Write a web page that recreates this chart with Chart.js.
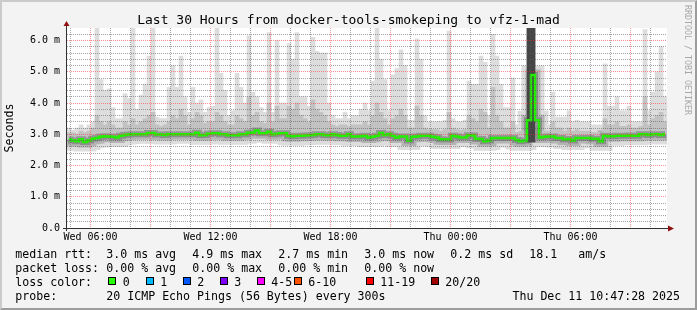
<!DOCTYPE html>
<html>
<head>
<meta charset="utf-8">
<script src="https://cdn.jsdelivr.net/npm/chart.js@4.4.1/dist/chart.umd.min.js"></script>
<style>
  html, body { margin: 0; padding: 0; }
  body { width: 697px; height: 310px; position: relative; overflow: hidden; background: #f3f3f3;
         font-family: "DejaVu Sans Mono", monospace; }
  #frame { position: absolute; left: 0; top: 0; width: 697px; height: 310px; box-sizing: border-box;
           border-top: 2px solid #cbcbcb; border-left: 2px solid #cbcbcb;
           border-right: 2px solid #9c9c9c; border-bottom: 2px solid #9c9c9c; }
  #chart { position: absolute; left: 0; top: 0; }
  .t { position: absolute; white-space: pre; color: #000; }
  .title { left: 0; width: 697px; top: 13px; text-align: center; font-size: 13px; line-height: 13px; }
  .vert { left: 683px; top: 5px; writing-mode: vertical-rl; font-size: 8.3px; line-height: 10px; color: #a8a8a8; }
  .leg { font-size: 11.6px; line-height: 14px; }
  .sw { position: absolute; width: 6px; height: 6px; border: 1px solid #000; }
</style>
</head>
<body>
<div id="frame"></div>
<canvas id="chart" width="697" height="310"></canvas>
<div class="t title">Last 30 Hours from docker-tools-smokeping to vfz-1-mad</div>
<div class="t vert">RRDTOOL / TOBI OETIKER</div>
<div id="legend"></div>

<script>
// 30 hours, one bucket every 12 minutes (4 px), minutes since Wed 00:00
const startMin = 289.5;
const spanMin = 1800;
const stepMin = 12;

// median rtt per bucket (ms)
const medianRtt = [
  2.83, 2.8, 2.78, 2.84, 2.75, 2.8, 2.86, 2.88, 2.92, 2.94,
  2.93, 2.92, 2.9, 2.95, 2.98, 2.99, 3.0, 3.0, 3.0, 3.0,
  3.04, 3.04, 2.99, 2.99, 2.98, 3.0, 3.0, 3.0, 3.0, 3.0,
  3.0, 3.0, 3.05, 2.97, 2.98, 3.02, 3.03, 3.03, 3.0, 3.0,
  2.97, 2.97, 2.97, 3.0, 3.0, 3.05, 3.06, 3.12, 3.03, 3.03,
  3.08, 3.0, 3.02, 3.03, 3.03, 2.95, 2.94, 2.95, 2.95, 2.96,
  2.97, 2.98, 3.0, 3.0, 2.98, 2.97, 3.0, 2.98, 2.95, 2.95,
  3.0, 2.93, 2.93, 2.94, 2.95, 2.9, 2.92, 2.95, 3.04, 2.98,
  3.0, 2.95, 2.9, 2.93, 2.93, 2.8, 2.92, 2.93, 2.95, 2.95,
  2.95, 2.92, 2.9, 2.84, 2.83, 2.83, 2.95, 2.93, 2.9, 2.9,
  2.97, 2.96, 2.86, 2.85, 2.78, 2.8, 2.88, 2.88, 2.88, 2.88,
  2.88, 2.88, 2.82, 2.78, 2.8, 3.45, 4.9, 3.45, 2.9, 2.92,
  2.93, 2.93, 2.88, 2.88, 2.83, 2.85, 2.8, 2.88, 2.88, 2.88,
  2.88, 2.86, 2.86, 2.78, 2.95, 2.94, 2.94, 2.95, 2.95, 2.95,
  2.96, 2.95, 2.95, 3.0, 3.0, 2.98, 3.0, 3.0, 2.98, 3.0
];

// upper edge of the denser smoke (ms)
const midRtt = [
  3.05, 3.05, 3.0, 3.1, 3.05, 3.1, 3.2, 3.6, 3.4, 3.3,
  3.4, 3.3, 3.2, 3.2, 3.4, 3.3, 3.5, 3.3, 3.4, 3.5,
  3.6, 3.7, 3.3, 3.25, 3.3, 3.4, 3.6, 3.5, 3.8, 3.6,
  3.3, 3.5, 3.7, 3.6, 3.35, 3.4, 3.4, 3.7, 3.6, 3.4,
  3.3, 3.3, 3.6, 3.5, 3.4, 4.2, 3.6, 3.7, 3.4, 3.35,
  4.0, 3.4, 3.9, 3.5, 3.5, 3.9, 3.8, 4.0, 3.6, 3.5,
  3.4, 4.1, 3.8, 3.7, 3.6, 3.4, 3.3, 3.25, 3.3, 3.3,
  3.25, 3.3, 3.3, 3.3, 3.4, 3.3, 3.6, 4.0, 3.7, 3.5,
  3.3, 3.5, 3.6, 3.8, 3.6, 3.2, 3.2, 3.9, 3.6, 3.2,
  3.15, 3.15, 3.15, 3.1, 3.15, 3.7, 3.2, 3.15, 3.1, 3.15,
  3.6, 3.5, 3.4, 3.8, 3.7, 3.2, 4.5, 3.6, 3.4, 3.2,
  3.2, 3.4, 3.05, 3.1, 3.1, 6.4, 6.4, 3.3, 3.1, 3.1,
  3.1, 3.4, 3.2, 3.2, 3.1, 3.2, 3.1, 3.15, 3.1, 3.1,
  3.1, 3.05, 3.05, 3.05, 3.5, 3.3, 3.3, 3.4, 3.25, 3.25,
  3.3, 3.2, 3.2, 3.25, 4.2, 3.3, 3.5, 3.6, 3.7, 3.4
];

// max ping per bucket (ms), clipped at the top of the graph
const maxRtt = [
  3.2, 3.1, 3.2, 3.3, 3.2, 3.3, 3.4, 6.4, 4.75, 4.4,
  4.45, 3.85, 3.5, 3.5, 4.3, 4.15, 6.4, 3.8, 4.25, 4.6,
  5.5, 6.4, 3.55, 3.5, 3.5, 4.5, 5.2, 4.5, 5.5, 4.2,
  3.7, 4.5, 4.0, 4.1, 3.7, 3.85, 3.9, 6.4, 4.95, 4.4,
  3.6, 3.75, 4.95, 4.5, 4.0, 6.15, 4.35, 4.2, 3.85, 3.7,
  6.25, 3.7, 6.0, 4.0, 4.0, 5.9, 5.4, 6.25, 4.2, 4.2,
  3.9, 6.1, 5.65, 5.6, 5.6, 4.0, 3.6, 3.5, 3.5, 3.7,
  3.5, 3.6, 3.6, 3.8, 4.0, 3.75, 4.7, 6.4, 5.4, 4.75,
  3.75, 4.9, 5.1, 5.7, 5.2, 3.45, 3.45, 6.05, 5.4, 3.6,
  3.4, 3.4, 3.4, 3.4, 3.45, 6.3, 3.5, 3.4, 3.4, 3.45,
  4.7, 4.6, 4.6, 5.5, 5.3, 3.6, 6.2, 5.5, 4.6, 3.85,
  3.85, 4.8, 3.3, 3.4, 3.3, 6.4, 6.4, 3.3, 3.3, 3.3,
  3.3, 4.35, 3.55, 3.55, 3.55, 3.75, 3.4, 3.45, 3.4, 3.4,
  3.4, 3.3, 3.3, 3.3, 5.25, 3.9, 3.9, 4.2, 3.75, 3.75,
  3.9, 3.4, 3.4, 3.4, 6.35, 3.75, 4.35, 5.0, 5.8, 4.2
];

// buckets where most of the pings were slow (dark smoke)
const spikeIdx = [115, 116];
const spikeLow = [2.75, 2.75];
const spikeHigh = [6.4, 6.4];

const lossColors = ['#26ff00', '#00b8ff', '#0059ff', '#7e00ff', '#ff00ff', '#ff5500', '#ff0000', '#a00000'];
const lossLabels = ['0', '1', '2', '3', '4-5', '6-10', '11-19', '20/20'];
const lossX = [108, 145.5, 182.5, 219.5, 256.5, 293.5, 365.5, 430.5];

const rttLegend = [[107, '3.0 ms avg'], [193, '4.9 ms max'], [279, '2.7 ms min'], [365, '3.0 ms now'], [451, '0.2 ms sd'], [530, '18.1'], [579, 'am/s']];
const lossLegend = [[107, '0.00 % avg'], [193, '0.00 % max'], [279, '0.00 % min'], [365, '0.00 % now']];

const times = medianRtt.map((v, i) => startMin + stepMin / 2 + i * stepMin);
const hourTicks = [];
for (let h = 300; h <= startMin + spanMin; h += 60) hourTicks.push(h);
const yTicks = [];
for (let k = 0; k <= 32; k++) yTicks.push(k / 5);

// legend text
const legend = document.getElementById('legend');
function addText(x, y, txt) {
  const d = document.createElement('div');
  d.className = 't leg';
  d.style.left = (x - 0.7) + 'px';
  d.style.top = y + 'px';
  d.textContent = txt;
  legend.appendChild(d);
}
addText(16, 247, 'median rtt:');
rttLegend.forEach(([x, s]) => addText(x, 247, s));
addText(16, 261, 'packet loss:');
lossLegend.forEach(([x, s]) => addText(x, 261, s));
addText(16, 275, 'loss color:');
lossLabels.forEach((s, i) => {
  const sw = document.createElement('div');
  sw.className = 'sw';
  sw.style.left = lossX[i] + 'px';
  sw.style.top = '277px';
  sw.style.background = lossColors[i];
  legend.appendChild(sw);
  addText(lossX[i] + 15.5, 275, s);
});
addText(16, 289, 'probe:');
addText(107, 289, '20 ICMP Echo Pings (56 Bytes) every 300s');
const dateDiv = document.createElement('div');
dateDiv.className = 't leg';
dateDiv.style.right = '17px';
dateDiv.style.top = '289px';
dateDiv.textContent = 'Thu Dec 11 10:47:28 2025';
legend.appendChild(dateDiv);

const pts = arr => arr.map((v, i) => ({ x: times[i], y: v }));
const band = (lo, hi) => lo.map((v, i) => ({ x: times[i], y: [v, hi[i]] }));
const spikes = spikeIdx.map((k, j) => ({ x: times[k], y: [spikeLow[j], spikeHigh[j]] }));

const redGrid = 'rgba(255,40,40,0.5)';
const grayGrid = 'rgba(90,90,90,0.55)';
const pad2 = n => String(n).padStart(2, '0');
const isRed = v => Math.round(v) % 180 === 0;

const rrdFrame = {
  id: 'rrdFrame',
  beforeDraw(chart) {
    const { ctx, chartArea: a } = chart;
    ctx.save();
    ctx.fillStyle = '#ffffff';
    ctx.fillRect(a.left, a.top, a.right - a.left, a.bottom - a.top);
    ctx.restore();
  },
  afterDraw(chart) {
    const { ctx, chartArea: a } = chart;
    ctx.save();
    ctx.strokeStyle = '#303030';
    ctx.lineWidth = 1;
    ctx.beginPath();
    ctx.moveTo(a.left - 0.5, a.bottom + 3);
    ctx.lineTo(a.left - 0.5, a.top - 3);
    ctx.moveTo(a.left - 4, a.bottom + 0.5);
    ctx.lineTo(a.right + 1, a.bottom + 0.5);
    ctx.stroke();
    ctx.fillStyle = '#8e1010';
    ctx.beginPath();
    ctx.moveTo(a.left - 0.5, a.top - 7);
    ctx.lineTo(a.left - 3.5, a.top - 2);
    ctx.lineTo(a.left + 2.5, a.top - 2);
    ctx.fill();
    ctx.beginPath();
    ctx.moveTo(a.right + 7, a.bottom + 0.5);
    ctx.lineTo(a.right + 1, a.bottom - 2.5);
    ctx.lineTo(a.right + 1, a.bottom + 3.5);
    ctx.fill();
    ctx.restore();
  }
};

Chart.defaults.font.family = '"DejaVu Sans Mono", monospace';

new Chart(document.getElementById('chart'), {
  type: 'bar',
  data: {
    datasets: [
      { type: 'line', data: pts(medianRtt), borderColor: '#22ee00', borderWidth: 2.5, stepped: 'middle', pointRadius: 0, clip: 0, order: 0 },
      { type: 'line', data: pts(medianRtt), borderColor: 'rgba(70,70,70,0.35)', borderWidth: 6, stepped: 'middle', pointRadius: 0, clip: 0, order: 1 },
      { data: spikes, backgroundColor: '#454545', barThickness: 4, borderWidth: 0, grouped: false, order: 2 },
      { data: band(medianRtt, midRtt), backgroundColor: '#c2c2c2', barThickness: 4, borderWidth: 0, grouped: false, order: 3 },
      { type: 'line', data: pts(medianRtt), borderColor: '#b4b4b4', borderWidth: 11, stepped: 'middle', pointRadius: 0, clip: 0, order: 4 },
      { data: band(medianRtt, maxRtt), backgroundColor: '#dddddd', barThickness: 4, borderWidth: 0, grouped: false, order: 5 },
      { type: 'line', data: pts(medianRtt), borderColor: '#dddddd', borderWidth: 19, stepped: 'middle', pointRadius: 0, clip: 0, order: 6 }
    ]
  },
  options: {
    responsive: false,
    animation: false,
    devicePixelRatio: 1,
    layout: { padding: { left: 0, top: 28, right: 30, bottom: 0 } },
    plugins: { legend: { display: false }, tooltip: { enabled: false }, title: { display: false } },
    scales: {
      x: {
        type: 'linear',
        min: startMin,
        max: startMin + spanMin,
        offset: false,
        afterBuildTicks(scale) { scale.ticks = hourTicks.map(v => ({ value: v })); },
        afterFit(scale) { scale.height = 82; },
        grid: {
          offset: false,
          drawTicks: false,
          lineWidth: 1,
          z: 1,
          color: c => (c.tick && isRed(c.tick.value)) ? redGrid : grayGrid
        },
        border: { display: false, dash: [1, 1] },
        ticks: {
          autoSkip: false,
          maxRotation: 0,
          padding: 3,
          color: '#000',
          font: { size: 10 },
          callback: v => Math.round(v) % 360 === 0 ? (v < 1440 ? 'Wed ' : 'Thu ') + pad2(Math.floor((Math.round(v) % 1440) / 60)) + ':00' : ' '
        }
      },
      y: {
        type: 'linear',
        min: 0,
        max: 6.4,
        afterBuildTicks(scale) { scale.ticks = yTicks.map(v => ({ value: v })); },
        afterFit(scale) { scale.width = 67; },
        grid: {
          drawTicks: false,
          lineWidth: 1,
          z: 1,
          color: c => {
            const v = c.tick ? c.tick.value : 0;
            if (v > 6.3) return 'rgba(0,0,0,0)';
            return Math.abs(v - Math.round(v)) < 1e-6 ? redGrid : grayGrid;
          }
        },
        border: { display: false, dash: [1, 1] },
        title: { display: true, text: 'Seconds', color: '#000', font: { size: 11.6 }, padding: { top: 3, bottom: 0 } },
        ticks: {
          autoSkip: false,
          padding: 7,
          color: '#000',
          font: { size: 10 },
          callback: v => Math.abs(v - Math.round(v)) < 1e-6 ? (Math.round(v) === 0 ? '0.0' : v.toFixed(1) + ' m') : ''
        }
      }
    }
  },
  plugins: [rrdFrame]
});
</script>
</body>
</html>
